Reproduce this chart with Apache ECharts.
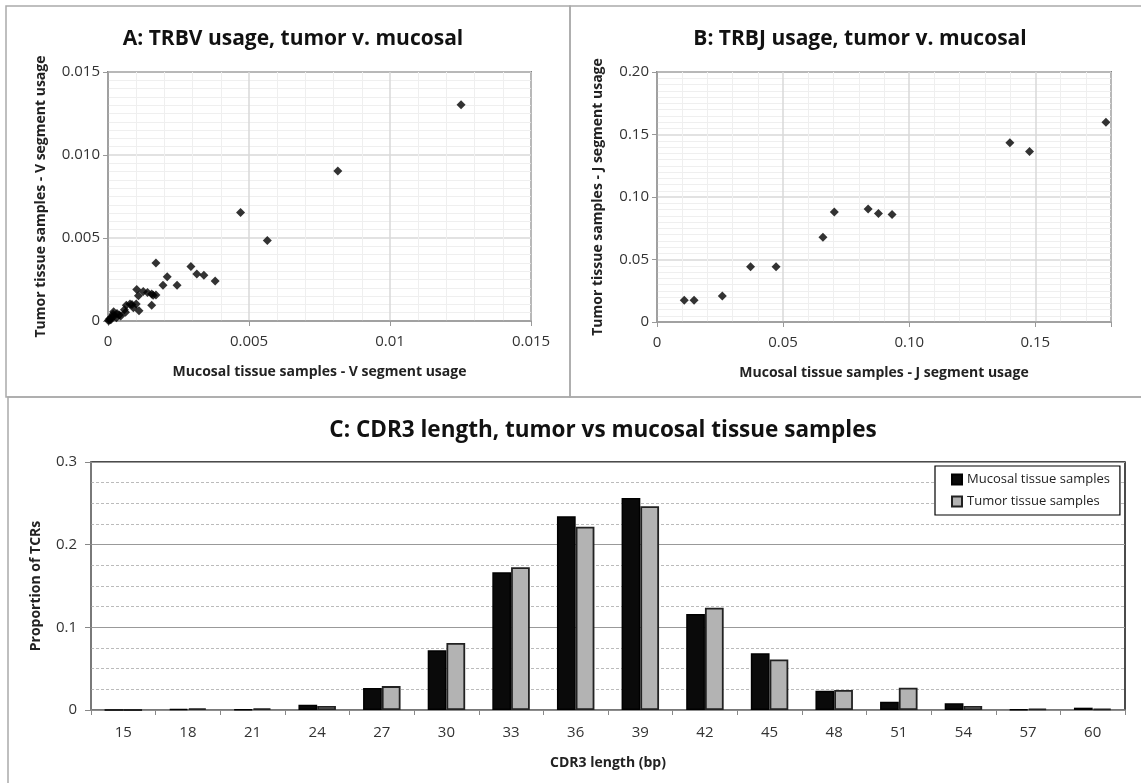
<!DOCTYPE html>
<html>
<head>
<meta charset="utf-8">
<script src="https://cdn.jsdelivr.net/npm/echarts@6/dist/echarts.min.js"></script>
<style>
  html, body { margin: 0; padding: 0; background: #fff; }
  #chart { width: 1141px; height: 783px; }
</style>
</head>
<body>
<div id="chart"></div>
<script>
// A: TRBV usage (mucosal x, tumor y)
const vMucosal = [0.01252, 0.00815, 0.00470, 0.00565, 0.00170, 0.00294, 0.00315, 0.00340, 0.00380, 0.00210,
  0.00195, 0.00245, 0.00102, 0.00108, 0.00125, 0.00140, 0.00155, 0.00170, 0.00155, 0.00100,
  0.00110, 0.00090, 0.00078, 0.00065, 0.00058, 0.00062, 0.00040, 0.00032, 0.00020, 0.00014,
  0.00006, 0.00001, 0.00022, 0.00010, 0.00085, 0.00030, 0.00005, 0.00018, 0.00160, 0.00045];
const vTumor = [0.01303, 0.00904, 0.00653, 0.00485, 0.00350, 0.00328, 0.00283, 0.00276, 0.00241, 0.00267,
  0.00215, 0.00215, 0.00190, 0.00152, 0.00177, 0.00172, 0.00162, 0.00156, 0.00095, 0.00102,
  0.00062, 0.00080, 0.00102, 0.00095, 0.00068, 0.00052, 0.00036, 0.00045, 0.00056, 0.00026,
  0.00014, 0.00003, 0.00030, 0.00008, 0.00100, 0.00020, 0.00005, 0.00040, 0.00155, 0.00030];

// B: TRBJ usage
const jMucosal = [0.0108, 0.0147, 0.0259, 0.0371, 0.0472, 0.0658, 0.0703, 0.0837, 0.0878, 0.0932, 0.1399, 0.1477, 0.1780];
const jTumor = [0.0174, 0.0174, 0.0208, 0.0443, 0.0443, 0.0678, 0.0881, 0.0905, 0.0868, 0.0860, 0.1434, 0.1364, 0.1599];

// C: CDR3 length distribution
const cdr3Lengths = ['15', '18', '21', '24', '27', '30', '33', '36', '39', '42', '45', '48', '51', '54', '57', '60'];
const mucosalProp = [0, 0.0012, 0.0008, 0.0064, 0.0265, 0.0723, 0.1667, 0.2345, 0.2566, 0.1161, 0.0687, 0.0234, 0.0101, 0.0081, 0.0008, 0.0028];
const tumorProp = [0, 0.0020, 0.0020, 0.0048, 0.0289, 0.0811, 0.1727, 0.2217, 0.2466, 0.1237, 0.0610, 0.0242, 0.0270, 0.0048, 0.0016, 0.0016];

const zip = (a, b) => a.map((v, i) => [v, b[i]]);

const font = '"Open Sans", "Noto Sans", sans-serif';

function scatterX(gridIndex, name, max, interval, fmt) {
  return {
    type: 'value', gridIndex, min: 0, max, interval,
    name, nameLocation: 'middle', nameGap: 44,
    nameTextStyle: { fontFamily: font, fontWeight: 'bold', fontSize: 14, color: '#222' },
    axisLine: { show: true, lineStyle: { color: '#999', width: 1.5 } },
    axisTick: { show: true, length: 5, lineStyle: { color: '#999' } },
    axisLabel: { fontFamily: font, fontSize: 15, color: '#333', margin: 13, formatter: fmt },
    splitLine: { show: true, lineStyle: { color: '#d8d8d8', width: 1.5 } },
    minorTick: { show: false, splitNumber: 5 },
    minorSplitLine: { show: true, lineStyle: { color: '#efefef' } }
  };
}

function scatterY(gridIndex, name, max, interval, fmt, nameGap) {
  return {
    type: 'value', gridIndex, min: 0, max, interval,
    name, nameLocation: 'middle', nameGap, nameRotate: 90,
    nameTextStyle: { fontFamily: font, fontWeight: 'bold', fontSize: 14, color: '#222' },
    axisLine: { show: true, lineStyle: { color: '#999', width: 1.5 } },
    axisTick: { show: true, length: 5, lineStyle: { color: '#999' } },
    axisLabel: { fontFamily: font, fontSize: 15, color: '#333', margin: 8, formatter: fmt },
    splitLine: { show: true, lineStyle: { color: '#d8d8d8', width: 1.5 } },
    minorTick: { show: false, splitNumber: 10 },
    minorSplitLine: { show: true, lineStyle: { color: '#efefef' } }
  };
}

const chart = echarts.init(document.getElementById('chart'), null, { renderer: 'canvas' });

chart.setOption({
  animation: false,
  backgroundColor: '#fff',
  graphic: [
    { type: 'rect', shape: { x: 6, y: 6, width: 564, height: 391 }, style: { fill: 'none', stroke: '#aaa', lineWidth: 1.5 }, z: -1 },
    { type: 'rect', shape: { x: 570, y: 6, width: 575, height: 391 }, style: { fill: 'none', stroke: '#aaa', lineWidth: 1.5 }, z: -1 },
    { type: 'rect', shape: { x: 8, y: 397, width: 1140, height: 390 }, style: { fill: 'none', stroke: '#aaa', lineWidth: 1.5 }, z: -1 }
  ],
  title: [
    { text: 'A: TRBV usage, tumor v. mucosal', left: 288, top: 24, textAlign: 'center',
      textStyle: { fontFamily: font, fontWeight: 'bold', fontSize: 21, color: '#111' } },
    { text: 'B: TRBJ usage, tumor v. mucosal', left: 855, top: 24, textAlign: 'center',
      textStyle: { fontFamily: font, fontWeight: 'bold', fontSize: 21, color: '#111' } },
    { text: 'C: CDR3 length, tumor vs mucosal tissue samples', left: 598, top: 414, textAlign: 'center',
      textStyle: { fontFamily: font, fontWeight: 'bold', fontSize: 22.5, color: '#111' } }
  ],
  legend: {
    data: ['Mucosal tissue samples', 'Tumor tissue samples'],
    orient: 'vertical', left: 935, top: 466,
    padding: [7, 10, 7, 16], itemGap: 9,
    itemWidth: 10, itemHeight: 10, icon: 'rect',
    borderColor: '#000', borderWidth: 1.2, backgroundColor: '#fff',
    textStyle: { fontFamily: font, fontSize: 13, color: '#222' }
  },
  grid: [
    { left: 108, top: 72, width: 423, height: 249, show: true, borderColor: '#222', borderWidth: 1.5 },
    { left: 657, top: 72, width: 454, height: 250, show: true, borderColor: '#222', borderWidth: 1.5 },
    { left: 91, top: 462, width: 1034, height: 248, show: true, borderColor: '#111', borderWidth: 1.5 }
  ],
  xAxis: [
    scatterX(0, 'Mucosal tissue samples - V segment usage', 0.015, 0.005,
      v => v === 0 ? '0' : String(+v.toFixed(3))),
    scatterX(1, 'Mucosal tissue samples - J segment usage', 0.18, 0.05,
      v => v === 0 ? '0' : (v > 0.16 ? '' : v.toFixed(2))),
    {
      type: 'category', gridIndex: 2, data: cdr3Lengths,
      name: 'CDR3 length (bp)', nameLocation: 'middle', nameGap: 46,
      nameTextStyle: { fontFamily: font, fontWeight: 'bold', fontSize: 14, color: '#222' },
      axisLine: { show: true, lineStyle: { color: '#888', width: 1.5 } },
      axisTick: { show: true, length: 5, lineStyle: { color: '#888' } },
      axisLabel: { fontFamily: font, fontSize: 15, color: '#333', margin: 15 }
    }
  ],
  yAxis: [
    scatterY(0, 'Tumor tissue samples - V segment usage', 0.015, 0.005,
      v => v === 0 ? '0' : v.toFixed(3), 60),
    scatterY(1, 'Tumor tissue samples - J segment usage', 0.2, 0.05,
      v => v === 0 ? '0' : v.toFixed(2), 52),
    {
      type: 'value', gridIndex: 2, min: 0, max: 0.3, interval: 0.1,
      name: 'Proportion of TCRs', nameLocation: 'middle', nameGap: 48, nameRotate: 90,
      nameTextStyle: { fontFamily: font, fontWeight: 'bold', fontSize: 14, color: '#222' },
      axisLine: { show: true, lineStyle: { color: '#888', width: 1.5 } },
      axisTick: { show: true, length: 6, lineStyle: { color: '#888' } },
      axisLabel: { fontFamily: font, fontSize: 15, color: '#333', margin: 14,
        formatter: v => v === 0 ? '0' : v.toFixed(1) },
      splitLine: { show: true, lineStyle: { color: '#999', width: 1.2 } },
      minorTick: { show: false, splitNumber: 4 },
      minorSplitLine: { show: true, lineStyle: { color: '#bbb', type: [3, 2], width: 1 } }
    }
  ],
  series: [
    {
      type: 'scatter', xAxisIndex: 0, yAxisIndex: 0,
      data: zip(vMucosal, vTumor),
      symbol: 'diamond', symbolSize: 9,
      itemStyle: { color: '#000' }
    },
    {
      type: 'scatter', xAxisIndex: 1, yAxisIndex: 1,
      data: zip(jMucosal, jTumor),
      symbol: 'diamond', symbolSize: 9,
      itemStyle: { color: '#000' }
    },
    {
      name: 'Mucosal tissue samples', type: 'bar', xAxisIndex: 2, yAxisIndex: 2,
      data: mucosalProp, barGap: '0%', barCategoryGap: '42%',
      itemStyle: { color: '#0a0a0a', borderColor: '#000', borderWidth: 1.5 }
    },
    {
      name: 'Tumor tissue samples', type: 'bar', xAxisIndex: 2, yAxisIndex: 2,
      data: tumorProp, barGap: '0%', barCategoryGap: '42%',
      itemStyle: { color: '#b3b3b3', borderColor: '#222', borderWidth: 1.8 }
    }
  ]
});
</script>
</body>
</html>
